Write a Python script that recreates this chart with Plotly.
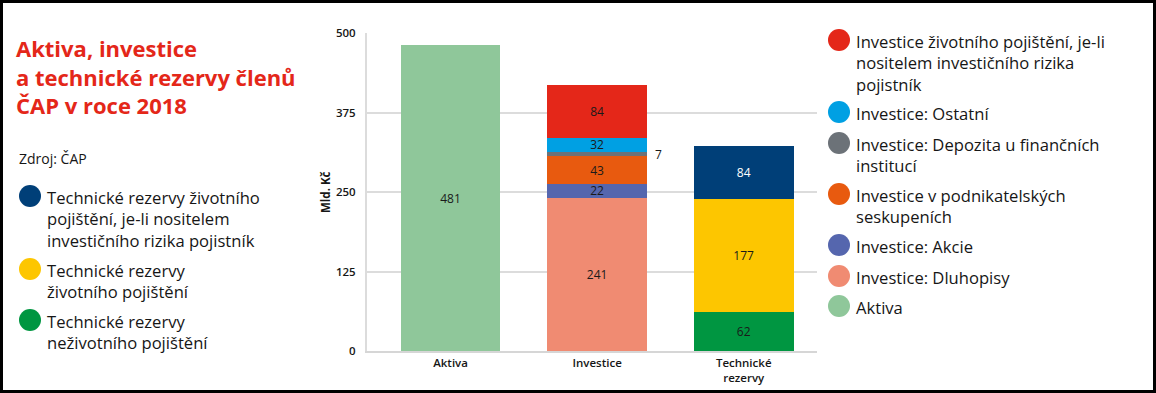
import plotly.graph_objects as go

# ---------------- data ----------------
categories = ["Aktiva", "Investice", "Technické<br>rezervy"]

aktiva_names = ["Aktiva"]
aktiva_values = [481]
aktiva_labels = ["481"]

inv_names = [
    "Investice: Dluhopisy",
    "Investice: Akcie",
    "Investice v podnikatelských<br>seskupeních",
    "Investice: Depozita u finančních<br>institucí",
    "Investice: Ostatní",
    "Investice životního pojištění, je-li<br>nositelem investičního rizika<br>pojistník",
]
inv_values = [241, 22, 43, 7, 22, 84]
inv_labels = ["241", "22", "43", "7", "32", "84"]

tech_names = [
    "Technické rezervy<br>neživotního pojištění",
    "Technické rezervy<br>životního pojištění",
    "Technické rezervy životního<br>pojištění, je-li nositelem<br>investičního rizika pojistník",
]
tech_values = [62, 177, 84]
tech_labels = ["62", "177", "84"]

y_ticks = [0, 125, 250, 375, 500]

title_lines = ["Aktiva, investice", "a technické rezervy členů", "ČAP v roce 2018"]
source_text = "Zdroj: ČAP"
y_title = "Mld. Kč"

# ---------------- styles ----------------
aktiva_colors = ["#8fc79a"]
inv_colors = ["#f08b72", "#5566ae", "#e85a0f", "#6c7278", "#00a0e3", "#e42719"]
tech_colors = ["#009641", "#fdc600", "#003f78"]
tech_text_colors = ["#1a1a1a", "#1a1a1a", "#ffffff"]

FONT = "Open Sans"
TXT = "#161616"
W, H = 1156, 393
L, R, T, B = 367, 817, 33, 351


def px2x(px):
    return (px - L) / (R - L)


def py2y(py):
    return (B - py) / (B - T)


fig = go.Figure()
shapes = []
annotations = []

BW = 0.68
LABEL_FONT = dict(size=12, family=FONT, weight=500)

fig.add_trace(go.Bar(
    x=[categories[0]], y=aktiva_values, name=aktiva_names[0],
    marker=dict(color=aktiva_colors[0], line=dict(width=0)),
    text=aktiva_labels, textposition="inside", insidetextanchor="middle", textangle=0,
    textfont=dict(color="#1a1a1a", **LABEL_FONT), width=BW,
    showlegend=False, hoverinfo="name+y",
))

for i, (n, v, lab) in enumerate(zip(inv_names, inv_values, inv_labels)):
    small = v < 10
    fig.add_trace(go.Bar(
        x=[categories[1]], y=[v], name=n.replace("<br>", " "),
        marker=dict(color=inv_colors[i], line=dict(width=0)),
        text=[""] if small else [lab], textposition="inside", textangle=0,
        insidetextanchor="middle",
        textfont=dict(color="#1a1a1a", **LABEL_FONT), width=BW,
        showlegend=False, hoverinfo="name+y",
    ))
    if small:
        ymid = sum(inv_values[:i]) + v / 2
        annotations.append(dict(x=categories[1], y=ymid, xref="x", yref="y",
                                text=lab, showarrow=False, xanchor="left",
                                xshift=56, font=dict(color="#1a1a1a", **LABEL_FONT)))

for i, (n, v, lab) in enumerate(zip(tech_names, tech_values, tech_labels)):
    fig.add_trace(go.Bar(
        x=[categories[2]], y=[v], name=n.replace("<br>", " "),
        marker=dict(color=tech_colors[i], line=dict(width=0)),
        text=[lab], textposition="inside", insidetextanchor="middle", textangle=0,
        textfont=dict(color=tech_text_colors[i], **LABEL_FONT), width=BW,
        showlegend=False, hoverinfo="name+y",
    ))

# title (each line placed separately for exact line spacing)
for k, line in enumerate(title_lines):
    annotations.append(dict(
        x=px2x(15), y=py2y(48 + k * 28.7), xref="paper", yref="paper",
        xanchor="left", yanchor="middle", text="<b>%s</b>" % line,
        showarrow=False, align="left", borderpad=0,
        font=dict(family=FONT, size=22, color="#e42719"),
    ))

annotations.append(dict(
    x=px2x(17), y=py2y(158), xref="paper", yref="paper", xanchor="left", yanchor="middle",
    text=source_text, showarrow=False, align="left",
    font=dict(family=FONT, size=14, color=TXT),
))

annotations.append(dict(
    x=px2x(325), y=0.5, xref="paper", yref="paper", xanchor="center", yanchor="middle",
    text="<b>%s</b>" % y_title, textangle=-90, showarrow=False,
    font=dict(family=FONT, size=11.5, color=TXT),
))

LH = 21.6
LEG_SIZE = 16.6


def legend_item(cx, cy, color, text, tx):
    r = 11
    shapes.append(dict(type="circle", xref="paper", yref="paper",
                       x0=px2x(cx - r), x1=px2x(cx + r), y0=py2y(cy + r), y1=py2y(cy - r),
                       fillcolor=color, line=dict(width=0)))
    for k, line in enumerate(text.split("<br>")):
        annotations.append(dict(x=px2x(tx), y=py2y(cy + k * LH + 1), xref="paper", yref="paper",
                                xanchor="left", yanchor="middle", text=line, showarrow=False,
                                align="left", borderpad=0,
                                font=dict(family=FONT, size=LEG_SIZE, color=TXT)))


left_y = [196, 269, 320]
for cy, n, c in zip(left_y, tech_names[::-1], tech_colors[::-1]):
    legend_item(30, cy, c, n, 46)

right_names = inv_names[::-1] + aktiva_names
right_colors = inv_colors[::-1] + aktiva_colors
right_y = [40, 112, 143, 194, 245, 276, 306]
for cy, n, c in zip(right_y, right_names, right_colors):
    legend_item(839, cy, c, n, 855)

# outer border
shapes.append(dict(type="rect", xref="paper", yref="paper",
                   x0=px2x(1.5), x1=px2x(1154.5), y0=py2y(391.5), y1=py2y(1.5),
                   line=dict(color="#000000", width=3), fillcolor="rgba(0,0,0,0)"))

TICK_FONT = dict(family=FONT, size=11.5, color=TXT, weight=600)

fig.update_layout(
    width=W, height=H,
    margin=dict(l=L, r=W - R, t=T, b=H - B, pad=0),
    barmode="stack",
    paper_bgcolor="white", plot_bgcolor="white",
    font=dict(family=FONT, color=TXT),
    showlegend=False,
    shapes=shapes, annotations=annotations,
    uniformtext=dict(minsize=11, mode="show"),
    xaxis=dict(categoryorder="array", categoryarray=categories,
               range=[-0.57, 2.5], showgrid=False, showline=True,
               linecolor="#d6d6d6", linewidth=2, ticks="", zeroline=False,
               automargin=False, tickfont=TICK_FONT),
    yaxis=dict(range=[0, 500], tickvals=y_ticks, showgrid=True, gridcolor="#dcdcdc",
               gridwidth=2, showline=True, linecolor="#dcdcdc", linewidth=2,
               zeroline=False, ticks="", ticklabelstandoff=7, automargin=False,
               tickfont=TICK_FONT),
)

fig.write_html(
    "out.html",
    config={"displayModeBar": False},
    post_script="document.body.style.margin='0';document.body.style.overflow='hidden';",
)
